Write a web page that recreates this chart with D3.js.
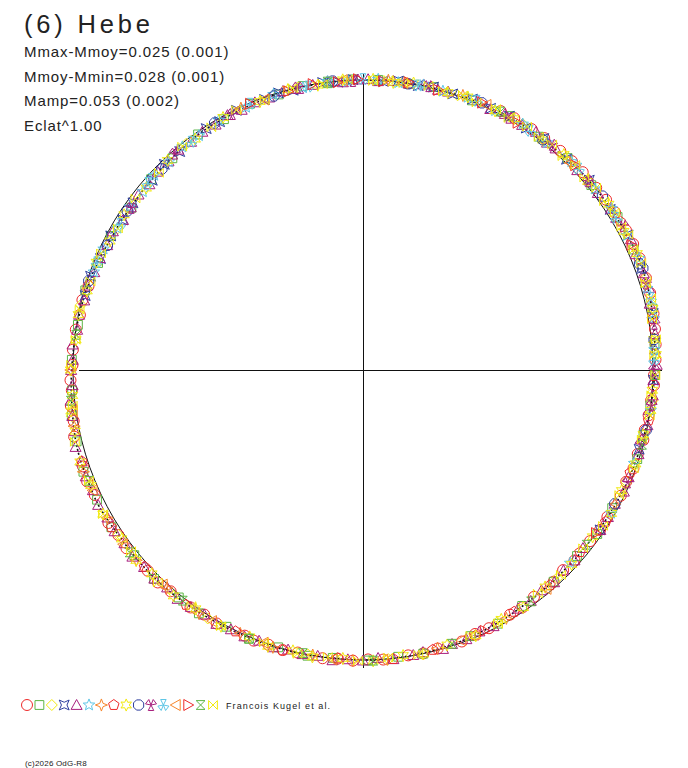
<!DOCTYPE html>
<html><head><meta charset="utf-8">
<script src="https://cdn.jsdelivr.net/npm/d3@7"></script>
<style>
html,body{margin:0;padding:0;background:#fff;}
svg text{font-family:"Liberation Sans",Arial,sans-serif;fill:#222;}
</style></head>
<body>
<svg id="chart" width="688" height="768"></svg>
<script>
// ---- text ----
const title = "(6) Hebe";
const infoLines = ["Mmax-Mmoy=0.025 (0.001)", "Mmoy-Mmin=0.028 (0.001)", "Mamp=0.053 (0.002)", "Eclat^1.00"];
const credit = "Francois Kugel et al.";
const copyright = "(c)2026 OdG-R8";

// ---- series: [rotational phase (deg, clockwise from top), delta mag (mmag, + = outward)] ----
const s00 = [[28,12],[31,14],[35,15],[38,16],[42,18],[45,20],[48,21],[52,22],[55,25],[58,27],[62,29],[65,30],[68,31],[72,28],[75,27],[79,22],[82,18],[85,14],[88,10],[91,4],[93,5],[96,-1],[99,-3],[102,-7],[104,-4],[107,-10],[110,-8],[113,-15],[116,-12],[121,-18],[124,-15],[127,-21],[132,-20],[135,-26],[138,-19],[143,-22],[146,-15],[149,-17],[154,-10],[157,-12],[160,-4],[165,-6],[168,-1],[171,-4],[176,1],[179,-2],[182,3],[185,-1],[188,4],[193,0],[196,5],[199,2],[202,7],[204,3],[210,10],[213,6],[216,13],[221,12],[224,20],[227,16],[233,23],[236,19],[239,26],[245,22],[248,28],[251,23],[257,24],[260,14],[263,16],[266,7],[268,10],[271,2],[274,3],[278,0],[281,-6],[284,-3],[287,-11]];
const s01 = [[3,2],[9,-1],[14,6],[22,3],[30,12],[37,8],[44,17],[51,14],[59,26],[66,23],[78,22],[85,10],[91,8],[97,-2],[103,-8],[108,-6],[119,-19],[125,-15],[131,-24],[138,-19],[146,-20],[152,-10],[158,-11],[168,0],[173,-4],[179,2],[186,-2],[191,4],[197,0],[203,7],[208,3],[214,13],[219,10],[225,20],[231,16],[238,25],[244,22],[250,28],[256,19],[261,18],[266,6],[272,5],[279,-5],[286,-4],[292,-16],[298,-16],[305,-27],[312,-18],[318,-19],[325,-9],[331,-12],[337,-3],[343,-7],[348,1],[353,-4],[358,3]];
const s02 = [[8,4],[19,2],[33,12],[58,20],[72,28],[96,4],[113,-15],[137,-20],[152,-16],[175,1],[191,-1],[212,11],[236,19],[261,18],[283,-2],[300,-25],[322,-11],[347,0]];
const s03 = [[285,-9],[289,-7],[293,-18],[298,-16],[302,-25],[306,-21],[312,-24],[316,-15],[320,-18],[327,-8],[330,-12],[334,-4],[340,-8],[343,-1],[346,-6],[352,1],[355,-4],[358,2],[4,-2],[7,4],[11,-1],[14,6],[18,1],[22,8],[26,4],[30,11],[34,7],[38,14],[44,11],[50,20],[57,18],[63,28],[70,23],[79,21],[92,2],[106,-10],[124,-15]];
const s04 = [[1,3],[3,-3],[6,2],[9,0],[12,7],[15,0],[17,4],[23,10],[26,1],[29,10],[33,8],[36,16],[39,9],[41,13],[47,11],[50,20],[53,15],[57,22],[59,20],[64,30],[67,23],[71,26],[74,28],[77,16],[83,16],[86,10],[89,14],[92,2],[95,3],[98,-5],[101,-1],[104,-10],[107,-7],[112,-13],[115,-8],[118,-18],[121,-16],[124,-14],[129,-26],[132,-20],[135,-24],[138,-16],[141,-24],[144,-17],[147,-20],[153,-9],[156,-14],[159,-6],[162,-7],[164,1],[168,-6],[170,-2],[174,3],[177,-6],[180,2],[183,-1],[186,7],[189,-2],[192,2],[195,-2],[198,6],[201,0],[204,6],[207,4],[210,12],[213,6],[216,11],[219,17],[222,10],[225,19],[228,17],[231,25],[234,18],[237,23],[240,19],[243,27],[246,21],[249,26],[252,22],[255,28],[258,17],[261,16],[264,15],[267,3],[270,7],[272,2],[275,6],[278,-5],[281,-3],[284,-10],[287,-5],[290,-15],[293,-14],[296,-20],[299,-15],[302,-26],[305,-24],[308,-19],[311,-26],[314,-17],[317,-18],[320,-9],[323,-16],[326,-10],[329,-14],[332,-5],[335,-11],[338,-5],[341,-7],[344,1],[347,-6],[350,-2],[353,3],[356,-6],[359,2]];
const s05 = [[290,-13],[295,-14],[300,-24],[305,-21],[309,-25],[313,-17],[317,-20],[321,-11],[325,-15],[330,-6],[336,-9],[342,-1],[348,-5],[353,2],[357,-3],[3,4],[7,-2],[12,5],[16,0],[21,8],[27,4],[33,12],[39,9],[45,17],[52,15],[57,24],[63,22],[68,29],[74,21],[80,20],[86,8],[98,2],[109,-12],[120,-13],[133,-25]];
const s06 = [[182,3],[190,-2],[198,6],[205,2],[214,13],[222,12],[230,22],[240,20],[250,28],[259,16],[270,8],[118,-17],[150,-12],[165,-7],[20,8],[45,11],[335,-4],[5,3]];
const s07 = [[100,0],[111,-14],[122,-14],[130,-25],[139,-18],[148,-18],[157,-6],[166,-6],[174,2],[185,-2],[196,6],[206,3],[217,15],[228,15],[238,25],[252,21],[60,26],[80,14]];
const s08 = [[2,3],[6,-3],[10,5],[17,0],[21,9],[27,3],[31,12],[38,7],[43,17],[50,13],[56,24],[62,20],[67,29],[73,21],[78,23],[84,9],[87,13],[94,0],[98,2],[103,-9],[109,-6],[115,-17],[120,-12],[126,-23],[133,-18],[140,-25],[146,-13],[151,-18],[157,-5],[163,-9],[168,1],[172,-6],[178,4],[184,-3],[190,5],[194,-2],[199,8],[203,0],[209,11],[215,6],[220,18],[226,13],[230,23],[235,17],[241,27],[247,21],[252,28],[258,16],[262,18],[265,6],[270,9],[276,-5],[281,0],[286,-11],[292,-9],[297,-22],[303,-19],[310,-26],[317,-13],[324,-17],[331,-5],[339,-9],[345,1],[351,-6],[356,3]];
const s09 = [[288,-6],[296,-21],[304,-21],[315,-21],[329,-7],[342,-7],[354,2],[9,-1],[24,9],[38,8],[54,22],[69,23],[70,29],[84,10],[102,-2],[118,-18]];
const s10 = [[13,5],[30,5],[40,15],[50,14],[61,27],[73,22],[81,19],[90,4],[97,3],[105,-10],[113,-9],[305,-27],[319,-12],[333,-10],[347,0],[358,-3]];
const s11 = [[292,-10],[301,-25],[311,-18],[323,-16],[337,-3],[349,-5],[0,3],[11,-1],[23,9],[35,7],[47,19],[59,19],[76,25],[88,5]];
const s12 = [[186,4],[200,1],[211,11],[223,13],[234,24],[246,22],[262,11],[356,2],[8,-1],[25,9],[340,-8],[140,-16],[160,-9],[176,2]];
const s13 = [[345,-6],[350,1],[355,-4],[359,3],[4,-2],[9,5],[15,0],[24,10],[32,6],[46,18],[65,23],[337,-3],[125,-21],[155,-8]];
const s14 = [[28,10],[105,-4],[128,-23],[144,-15],[162,-8],[178,3],[192,-2],[203,7],[218,10],[232,23],[248,22],[264,14],[277,-4],[353,2]];
const s15 = [[2,-3],[5,4],[8,-1],[13,6],[16,0],[20,8],[23,2],[27,11],[30,4],[34,13],[37,7],[40,16],[43,9],[46,19],[49,12],[52,22],[55,16],[58,26],[61,20],[63,29],[66,22],[69,30],[73,21],[76,26],[80,13],[84,17],[87,6],[91,9],[95,-2],[99,1],[104,-10],[110,-7],[116,-18],[123,-14],[129,-25],[136,-19],[142,-23],[152,-9],[158,-12],[169,1],[175,-5],[181,3],[187,-3],[193,5],[200,0],[209,11],[216,7],[224,20],[232,16],[241,27],[248,21],[256,26],[263,9],[271,7],[276,-4],[282,-1],[288,-13],[294,-12],[300,-26],[307,-19],[314,-23],[321,-10],[328,-14],[334,-3],[340,-9],[346,1],[352,-5],[357,3]];
const seriesList = [s00,s01,s02,s03,s04,s05,s06,s07,s08,s09,s10,s11,s12,s13,s14,s15];

// mean (fitted) curve
const meanPhase = [0,15,30,45,55,65,72,80,90,100,110,120,130,135,140,150,160,170,180,195,210,225,240,248,255,262,270,280,290,300,305,310,320,330,345];
const meanMag   = [0,3,8,14,20,26,26,17,7,-3,-10,-16,-22,-23,-21,-15,-6,-2,0,2,7,17,23,25,23,13,5,-3,-11,-22,-24,-22,-15,-9,-3];

const colors = ['#ee2a2a','#5db545','#f2ea10','#2f3f9e','#a8207e','#5ec6e6','#f7862c','#ee2a2a','#f2ea10','#2f3f9e','#a8207e','#5ec6e6','#f7862c','#ee2a2a','#5db545','#f2ea10'];

// ---- symbols ----
function poly(n, r, rot){ const p=d3.path(); for(let i=0;i<n;i++){const a=rot+i*2*Math.PI/n; const x=r*Math.sin(a), y=-r*Math.cos(a); i?p.lineTo(x,y):p.moveTo(x,y);} p.closePath(); return p.toString(); }
function star(n, ro, ri){ const p=d3.path(); for(let i=0;i<2*n;i++){const a=i*Math.PI/n; const r=i%2?ri:ro; const x=r*Math.sin(a), y=-r*Math.cos(a); i?p.lineTo(x,y):p.moveTo(x,y);} p.closePath(); return p.toString(); }
function circ(r){ const p=d3.path(); p.arc(0,0,r,0,2*Math.PI); p.closePath(); return p.toString(); }
const shapes = [
  circ(5),
  "M-4,-4H4V4H-4Z",
  "M0,-5L5,0L0,5L-5,0Z",
  "M-4.5,-4.5L0,-2.5L4.5,-4.5L2.5,0L4.5,4.5L0,2.5L-4.5,4.5L-2.5,0Z",
  "M0,-5L5,4L-5,4Z",
  star(5,5.5,2.4),
  "M0,-5.5L1.5,-1.5L5.5,0L1.5,1.5L0,5.5L-1.5,1.5L-5.5,0L-1.5,-1.5Z",
  poly(5,5,0),
  star(6,5.5,2.8),
  poly(8,5,Math.PI/8),
  "M0,0L-5,-1L-2,-5ZM0,0L2,-5L5,-1ZM0,0L-2.5,5L2.5,5Z",
  "M0,0L-5,1L-2,5ZM0,0L2,5L5,1ZM0,0L-2.5,-5L2.5,-5Z",
  "M-5,0L4,-5L4,5Z",
  "M5,0L-4,-5L-4,5Z",
  "M-4,-4H4L-4,4H4Z",
  "M-4,-4V4L4,-4V4Z"
];
const symScale = 1.1;

// ---- layout ----
const svg = d3.select("#chart");
const cx = 363, cy = 370, R0 = 290;
const rScale = d3.scaleLinear().domain([-26, 26]).range([R0 - 7, R0 + 7]);
const ang = d3.scaleLinear().domain([0, 360]).range([0, 2*Math.PI]);

svg.append("text").attr("x",24).attr("y",33).attr("font-size",25.5).attr("letter-spacing",3.8).text(title);
svg.selectAll("text.info").data(infoLines).join("text").attr("class","info")
  .attr("x",24).attr("y",(d,i)=>57+i*24.6).attr("font-size",15).attr("letter-spacing",0.9).text(d=>d);

const g = svg.append("g").attr("transform",`translate(${cx},${cy})`);
// axes
g.append("line").attr("x1",0).attr("x2",0).attr("y1",-296).attr("y2",298).attr("stroke","#111").attr("stroke-width",1).attr("shape-rendering","crispEdges");
g.append("line").attr("x1",-284).attr("x2",299).attr("y1",0).attr("y2",0).attr("stroke","#111").attr("stroke-width",1).attr("shape-rendering","crispEdges");
// reference circle
g.append("circle").attr("r",rScale(0)).attr("fill","none").attr("stroke","#111").attr("stroke-width",1);

// mean curve (dotted)
const meanData = meanPhase.map((p,i)=>[p, meanMag[i]]);
g.append("path").datum(meanData)
  .attr("d", d3.lineRadial().angle(d=>ang(d[0])).radius(d=>rScale(d[1])).curve(d3.curveCardinalClosed))
  .attr("fill","none").attr("stroke","#111").attr("stroke-width",1.6).attr("stroke-dasharray","2,2");

// data points
seriesList.forEach((ser, si) => {
  g.append("g").selectAll("path").data(ser).join("path")
    .attr("d", shapes[si])
    .attr("transform", d => { const a = ang(d[0]), r = rScale(d[1]); return `translate(${(r*Math.sin(a)).toFixed(2)},${(-r*Math.cos(a)).toFixed(2)}) scale(${symScale})`; })
    .attr("fill","none").attr("stroke",colors[si]).attr("stroke-width",1/symScale);
});

// legend
const leg = svg.append("g");
shapes.forEach((s,i)=>{
  leg.append("path").attr("d",s).attr("transform",`translate(${27+i*12.4},705) scale(${symScale})`)
    .attr("fill","none").attr("stroke",colors[i]).attr("stroke-width",1/symScale);
});
svg.append("text").attr("x",226).attr("y",709).attr("font-size",9).attr("letter-spacing",1.1).text(credit);
svg.append("text").attr("x",25).attr("y",766).attr("font-size",8).attr("letter-spacing",0.2).text(copyright);
</script>
</body></html>
